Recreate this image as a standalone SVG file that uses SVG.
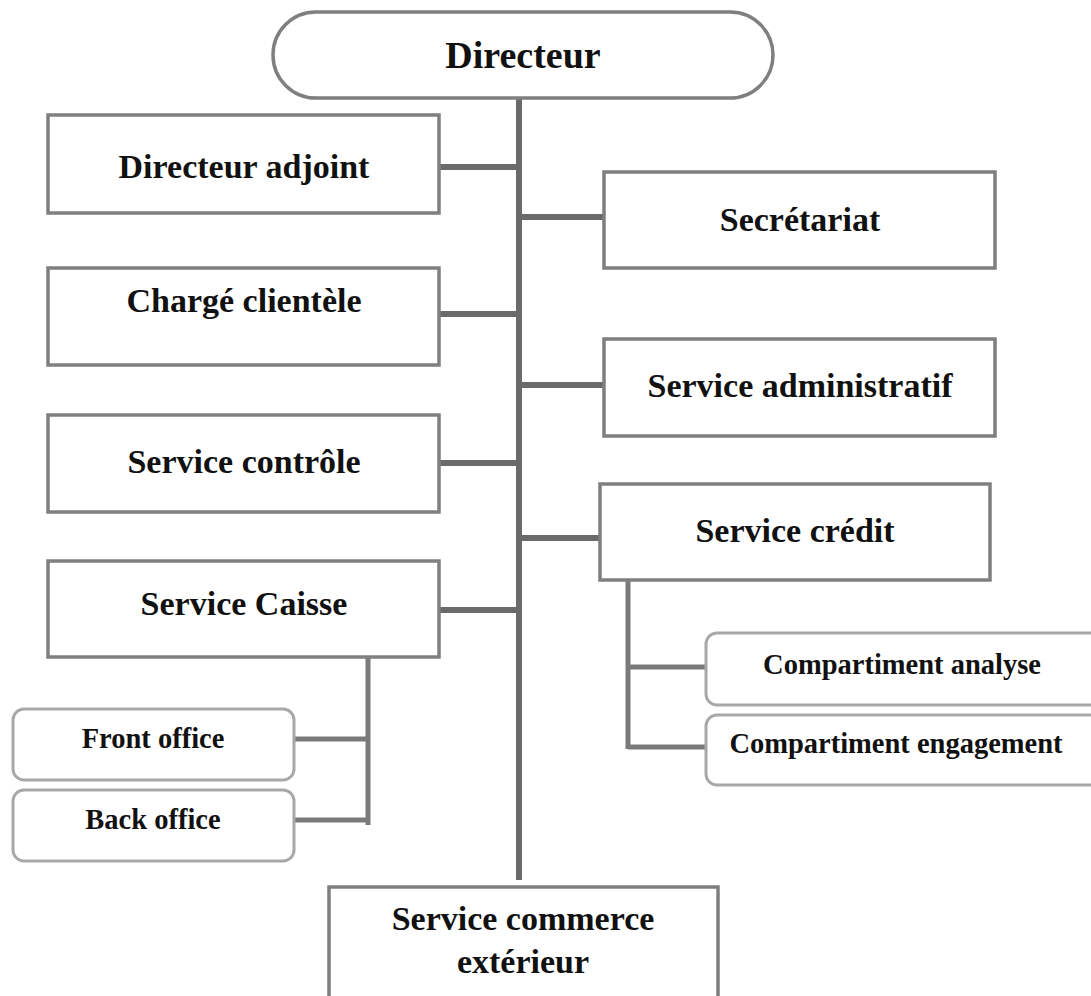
<svg xmlns="http://www.w3.org/2000/svg" width="1091" height="996" viewBox="0 0 1091 996">
  <style>
    .box { fill: #ffffff; stroke: #7f7f7f; stroke-width: 3.5; }
    .sub { fill: #ffffff; stroke: #a8a8a8; stroke-width: 3; }
    .link { stroke: #6a6a6a; stroke-width: 6; fill: none; }
    .sublink { stroke: #7a7a7a; stroke-width: 5; fill: none; }
    text { font-family: "Liberation Serif", "Times New Roman", serif; font-weight: bold; fill: #111111; text-anchor: middle; }
    .t-main { font-size: 34px; }
    .t-top { font-size: 38px; }
    .t-small { font-size: 28.5px; }
  </style>
  <rect width="1091" height="996" fill="#ffffff"/>

  <!-- connectors -->
  <g id="connectors">
    <line class="link" x1="519" y1="98" x2="519" y2="880"/>
    <line class="link" x1="440" y1="167" x2="519" y2="167"/>
    <line class="link" x1="519" y1="217" x2="604" y2="217"/>
    <line class="link" x1="440" y1="314" x2="519" y2="314"/>
    <line class="link" x1="519" y1="385" x2="604" y2="385"/>
    <line class="link" x1="440" y1="463" x2="519" y2="463"/>
    <line class="link" x1="519" y1="538" x2="600" y2="538"/>
    <line class="link" x1="440" y1="610" x2="519" y2="610"/>
    <!-- Service crédit branch -->
    <line class="sublink" x1="628" y1="580" x2="628" y2="749"/>
    <line class="sublink" x1="628" y1="667" x2="706" y2="667"/>
    <line class="sublink" x1="628" y1="747" x2="706" y2="747"/>
    <!-- Service Caisse branch -->
    <line class="sublink" x1="368" y1="658" x2="368" y2="825"/>
    <line class="sublink" x1="294" y1="739" x2="368" y2="739"/>
    <line class="sublink" x1="294" y1="820" x2="368" y2="820"/>
  </g>

  <g id="directeur">
    <rect class="box" x="273" y="12" width="500" height="86" rx="43" ry="43"/>
    <text class="t-top" x="523" y="68">Directeur</text>
  </g>

  <g id="directeur-adjoint">
    <rect class="box" x="48" y="115" width="391" height="98"/>
    <text class="t-main" x="244" y="178">Directeur adjoint</text>
  </g>

  <g id="secretariat">
    <rect class="box" x="604" y="172" width="391" height="96"/>
    <text class="t-main" x="800" y="231">Secrétariat</text>
  </g>

  <g id="charge-clientele">
    <rect class="box" x="48" y="268" width="391" height="97"/>
    <text class="t-main" x="244" y="312">Chargé clientèle</text>
  </g>

  <g id="service-administratif">
    <rect class="box" x="604" y="339" width="391" height="97"/>
    <text class="t-main" x="800" y="397">Service administratif</text>
  </g>

  <g id="service-controle">
    <rect class="box" x="48" y="415" width="391" height="97"/>
    <text class="t-main" x="244" y="473">Service contrôle</text>
  </g>

  <g id="service-credit">
    <rect class="box" x="600" y="484" width="390" height="96"/>
    <text class="t-main" x="795" y="542">Service crédit</text>
  </g>

  <g id="service-caisse">
    <rect class="box" x="48" y="561" width="391" height="96"/>
    <text class="t-main" x="244" y="615">Service Caisse</text>
  </g>

  <g id="compartiment-analyse">
    <rect class="sub" x="706" y="633" width="400" height="72" rx="11" ry="11"/>
    <text class="t-small" x="902" y="674">Compartiment analyse</text>
  </g>

  <g id="compartiment-engagement">
    <rect class="sub" x="706" y="715" width="400" height="70" rx="11" ry="11"/>
    <text class="t-small" x="896" y="753">Compartiment engagement</text>
  </g>

  <g id="front-office">
    <rect class="sub" x="13" y="709" width="281" height="71" rx="11" ry="11"/>
    <text class="t-small" x="153" y="748">Front office</text>
  </g>

  <g id="back-office">
    <rect class="sub" x="13" y="790" width="281" height="71" rx="11" ry="11"/>
    <text class="t-small" x="153" y="829">Back office</text>
  </g>

  <g id="service-commerce-exterieur">
    <rect class="box" x="329" y="887" width="389" height="130"/>
    <text class="t-main" x="523" y="930">Service commerce</text>
    <text class="t-main" x="523" y="973">extérieur</text>
  </g>
</svg>
